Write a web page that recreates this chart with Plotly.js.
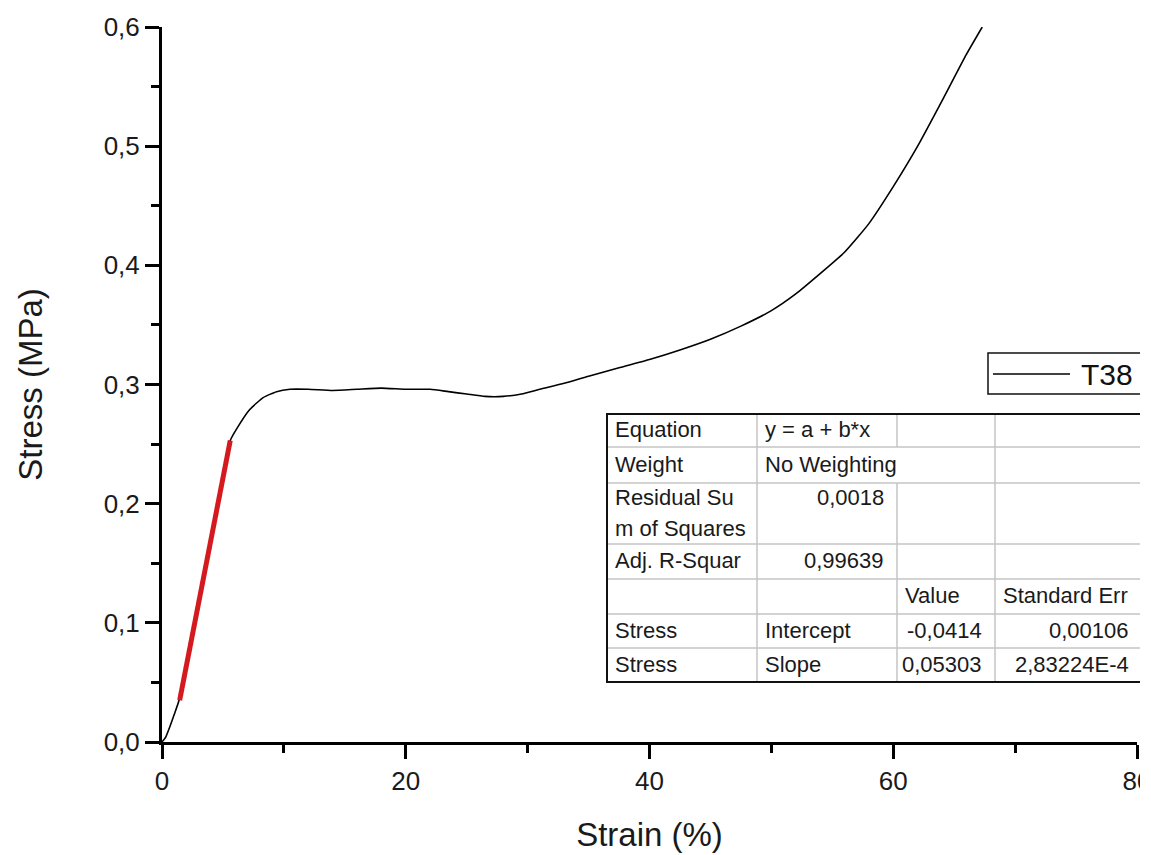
<!DOCTYPE html>
<html>
<head>
<meta charset="utf-8">
<script src="https://cdn.plot.ly/plotly-3.0.1.min.js"></script>
<style>
  html, body { margin: 0; padding: 0; background: #fff; overflow: hidden; }
  #wrap { width: 1140px; height: 855px; overflow: hidden; position: relative; background: #fff; }
  #chart { width: 1300px; height: 855px; }
</style>
</head>
<body>
<div id="wrap"><div id="chart"></div></div>
<script>
// ---- data ----
const strain = [0, 0.3, 0.65, 1.0, 1.4, 2.5, 3.5, 4.5, 5.6, 6.2, 7.2, 8.3, 9.4, 10.5, 12, 14, 16, 18, 20, 22, 23.5, 25, 26.5, 28, 29.5, 31, 33, 35, 37.5, 40, 42.5, 45, 47.5, 50, 52, 54, 56, 58, 60, 62, 64, 66, 67.3];
const stress = [0, 0.004, 0.013, 0.023, 0.035, 0.091, 0.145, 0.198, 0.253, 0.264, 0.279, 0.289, 0.294, 0.296, 0.296, 0.295, 0.296, 0.297, 0.296, 0.296, 0.294, 0.292, 0.290, 0.290, 0.292, 0.296, 0.301, 0.307, 0.314, 0.321, 0.329, 0.338, 0.349, 0.362, 0.376, 0.393, 0.411, 0.435, 0.466, 0.500, 0.538, 0.577, 0.600];
const fitStrain = [1.45, 5.6];
const fitStress = [0.035, 0.253];
const seriesName = 'T38';

const tableCol1 = ['Equation', 'Weight', ['Residual Su', 'm of Squares'], 'Adj. R-Squar', '', 'Stress', 'Stress'];
const tableCol2 = ['y = a + b*x', 'No Weighting', '0,0018', '0,99639', '', 'Intercept', 'Slope'];
const tableCol3 = ['', '', '', '', 'Value', '-0,0414', '0,05303'];
const tableCol4 = ['', '', '', '', 'Standard Err', '0,00106', '2,83224E-4'];

const xTitle = 'Strain (%)';
const yTitle = 'Stress (MPa)';

// ---- layout geometry (pixels) ----
const L = 162, R = 1137, T = 27, B = 742, W = 1300, H = 855;
const px = v => (v - L) / (R - L);
const py = v => (B - v) / (B - T);
const colEdges = [607, 757, 897, 995, 1142];
const rowEdges = [414, 447, 483, 544, 579, 614, 648, 682];
const FONT = 'Liberation Sans, Arial, sans-serif';
const TXT = '#1a1a1a';

const shapes = [];
const annotations = [];
const gray = '#c4c4c4';
for (let i = 1; i < rowEdges.length - 1; i++) {
  shapes.push({type: 'line', xref: 'paper', yref: 'paper', x0: px(colEdges[0]), x1: px(colEdges[4]), y0: py(rowEdges[i]), y1: py(rowEdges[i]), line: {color: gray, width: 1.5}});
}
for (let c = 1; c < colEdges.length - 1; c++) {
  for (let r = 0; r < rowEdges.length - 1; r++) {
    if (c === 2 && r === 1) continue; // "No Weighting" spans over this divider
    shapes.push({type: 'line', xref: 'paper', yref: 'paper', x0: px(colEdges[c]), x1: px(colEdges[c]), y0: py(rowEdges[r]), y1: py(rowEdges[r + 1]), line: {color: gray, width: 1.5}});
  }
}
shapes.push({type: 'rect', xref: 'paper', yref: 'paper', x0: px(colEdges[0]), x1: px(colEdges[4]), y0: py(rowEdges[0]), y1: py(rowEdges[rowEdges.length - 1]), line: {color: '#111', width: 2}});

const isNum = s => /^-?\d/.test(s);
const cols = [tableCol1, tableCol2, tableCol3, tableCol4];
cols.forEach((col, c) => {
  col.forEach((cell, r) => {
    const lines = Array.isArray(cell) ? cell : [cell];
    lines.forEach((txt, k) => {
      if (!txt) return;
      const top = rowEdges[r], bot = rowEdges[r + 1];
      const yc = Array.isArray(tableCol1[r]) ? top + 15 + k * 30 : (top + bot) / 2 - 1;
      const right = isNum(txt);
      annotations.push({
        xref: 'paper', yref: 'paper', showarrow: false,
        x: right ? px(colEdges[c + 1] - 11) : px(colEdges[c] + 6),
        y: py(yc), xanchor: right ? 'right' : 'left', yanchor: 'middle',
        text: txt, font: {family: FONT, size: 22, color: TXT}
      });
    });
  });
});

// legend box (cut by the right edge, as in the picture)
shapes.push({type: 'rect', xref: 'paper', yref: 'paper', x0: px(988), x1: px(1170), y0: py(394), y1: py(353),
  fillcolor: '#fff', line: {color: '#111', width: 1.5}});
shapes.push({type: 'line', xref: 'paper', yref: 'paper', x0: px(993), x1: px(1070), y0: py(374), y1: py(374),
  line: {color: '#000', width: 1.5}});
annotations.push({xref: 'paper', yref: 'paper', showarrow: false, x: px(1079), y: py(374),
  xanchor: 'left', yanchor: 'middle', text: seriesName, font: {family: FONT, size: 30, color: '#111'}});

const traces = [
  {x: strain, y: stress, type: 'scatter', mode: 'lines', name: seriesName,
   line: {color: '#000', width: 1.6, shape: 'spline', smoothing: 0.5}, cliponaxis: false},
  {x: fitStrain, y: fitStress, type: 'scatter', mode: 'lines', showlegend: false,
   line: {color: '#d41a1f', width: 5}}
];

const axisCommon = {
  showgrid: false, zeroline: false, showline: true, linecolor: '#000', linewidth: 3,
  ticks: 'outside', ticklen: 14, tickwidth: 3, tickcolor: '#000',
  tickfont: {family: FONT, size: 26, color: TXT}, mirror: false
};

const layout = {
  width: W, height: H,
  margin: {l: L, r: W - R, t: T, b: H - B, pad: 0},
  paper_bgcolor: '#fff', plot_bgcolor: '#fff',
  separators: ',.',
  showlegend: false,
  xaxis: Object.assign({}, axisCommon, {
    range: [0, 80], dtick: 20, tick0: 0,
    minor: {dtick: 10, ticks: 'outside', ticklen: 8, tickwidth: 3, tickcolor: '#000'},
    title: {text: xTitle, font: {family: FONT, size: 33, color: TXT}, standoff: 28}
  }),
  yaxis: Object.assign({}, axisCommon, {
    range: [0, 0.6], dtick: 0.1, tick0: 0, tickformat: '.1f',
    minor: {dtick: 0.05, ticks: 'outside', ticklen: 8, tickwidth: 3, tickcolor: '#000'},
    title: {text: yTitle, font: {family: FONT, size: 33, color: TXT}, standoff: 52}
  }),
  shapes: shapes,
  annotations: annotations
};

Plotly.newPlot('chart', traces, layout, {displayModeBar: false, responsive: false});
</script>
</body>
</html>
